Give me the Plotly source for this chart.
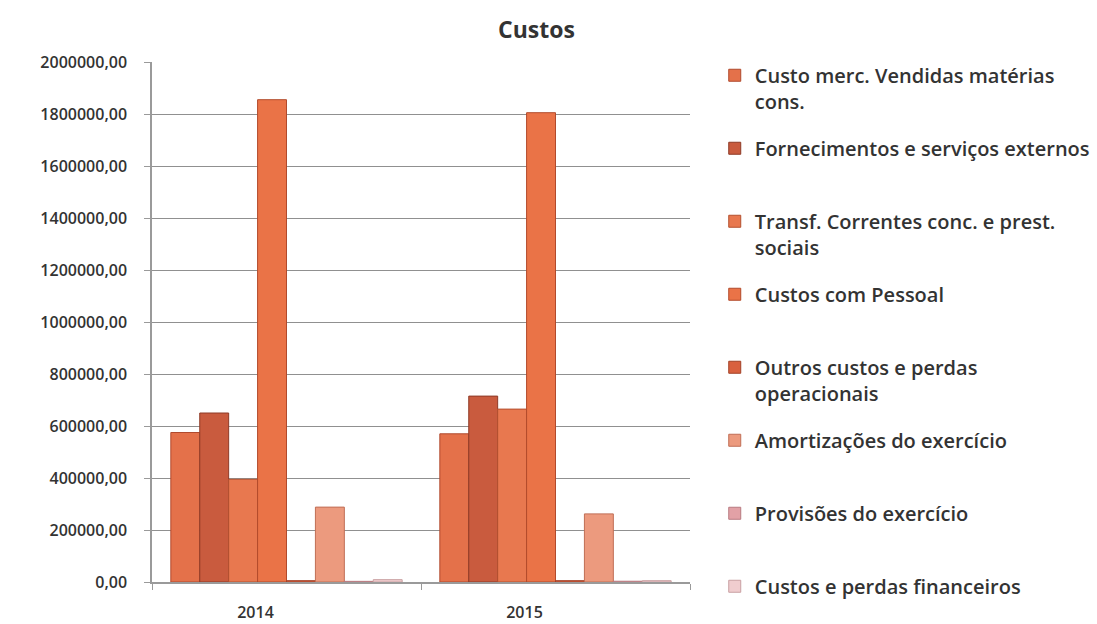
import plotly.graph_objects as go

years = ["2014", "2015"]
series_names = [
    "Custo merc. Vendidas matérias<br>cons.",
    "Fornecimentos e serviços externos<br> ",
    "Transf. Correntes conc. e prest.<br>sociais",
    "Custos com Pessoal<br> ",
    "Outros custos e perdas<br>operacionais",
    "Amortizações do exercício<br> ",
    "Provisões do exercício<br> ",
    "Custos e perdas financeiros",
]
custo_merc = [575000, 570000]
fornecimentos = [650000, 715000]
transf_correntes = [395000, 665000]
custos_pessoal = [1855000, 1805000]
outros_custos = [5000, 5000]
amortizacoes = [288000, 262000]
provisoes = [2500, 3000]
custos_financeiros = [9000, 5000]
series_values = [custo_merc, fornecimentos, transf_correntes, custos_pessoal,
                 outros_custos, amortizacoes, provisoes, custos_financeiros]
colors = ["#E4714A", "#C95B3E", "#E8784F", "#EA7347", "#D9613F", "#EC9A7E", "#E2A1A6", "#F0CDCF"]
line_colors = ["#B04A2E", "#8E3A26", "#B4502F", "#B24A2B", "#A34127", "#C06E55", "#B87A80", "#C9A0A2"]

y_tickvals = [0, 200000, 400000, 600000, 800000, 1000000, 1200000, 1400000, 1600000, 1800000, 2000000]
y_ticktext = ["0,00", "200000,00", "400000,00", "600000,00", "800000,00", "1000000,00",
              "1200000,00", "1400000,00", "1600000,00", "1800000,00", "2000000,00"]

fig = go.Figure()
for i, (name, vals) in enumerate(zip(series_names, series_values)):
    fig.add_trace(go.Bar(
        x=years, y=vals, name=name,
        marker=dict(color=colors[i], line=dict(color=line_colors[i], width=1)),
        legendgroup=str(i),
    ))

txt = "#333333"
fig.update_layout(
    width=1097, height=624,
    paper_bgcolor="white", plot_bgcolor="white",
    margin=dict(l=152, r=407, t=62, b=42, autoexpand=False),
    barmode="group", bargap=0.14, bargroupgap=0,
    font=dict(family="Open Sans", color=txt),
    title=dict(text="<b>Custos</b>", x=0.489, xanchor="center", y=0.952, yanchor="middle",
               font=dict(size=23, color=txt, family="Open Sans")),
    legend=dict(x=1.046, xanchor="left", y=1.012, yanchor="top",
                font=dict(size=20, color=txt, weight=600), valign="top",
                tracegroupgap=18, itemwidth=30, bgcolor="rgba(0,0,0,0)",
                maxheight=620),
    showlegend=True,
)
fig.update_yaxes(range=[0, 2000000], tickvals=y_tickvals, ticktext=y_ticktext,
                 showgrid=True, gridcolor="#909090", gridwidth=1.3,
                 showline=True, linecolor="#9a9a9a", linewidth=1.5,
                 ticks="outside", ticklen=6, tickcolor="#9a9a9a", ticklabelstandoff=14,
                 tickfont=dict(size=16, color=txt, weight=600), zeroline=False,
                 automargin=False)
fig.update_xaxes(type="category", showline=True, linecolor="#9a9a9a", linewidth=1.5,
                 ticks="outside", tickson="boundaries", ticklen=6, tickcolor="#9a9a9a",
                 ticklabelstandoff=15, automargin=False,
                 tickfont=dict(size=16, color=txt, weight=600), ticklabelshift=-31)

fig.write_html("out.html")
